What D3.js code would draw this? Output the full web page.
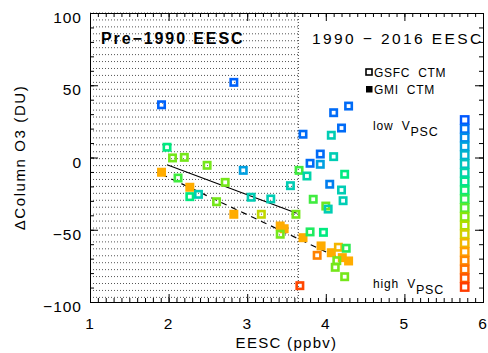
<!DOCTYPE html>
<html>
<head>
<meta charset="utf-8">
<script src="https://cdn.jsdelivr.net/npm/d3@7"></script>
<style>
  body { margin: 0; background: #fff; }
  text { font-family: "Liberation Sans", Arial, sans-serif; fill: #000; white-space: pre; }
</style>
</head>
<body>
<div id="chart"></div>
<script>
// GSFC CTM points (open squares): EESC, dColumn O3, VPSC colour (0 = low, 1 = high)
const gsfcX = [1.91, 2.83, 1.98, 2.05, 2.20, 2.49, 2.95, 2.12, 2.72, 2.27, 2.38, 2.61, 3.05, 3.30, 3.18,
               3.62, 3.42, 3.55, 3.66, 3.76, 3.71, 3.93, 3.80, 3.93, 4.10, 4.07, 4.10, 4.20, 4.29, 4.24,
               4.05, 4.20, 4.22, 3.84, 4.00, 4.03, 3.80, 3.97, 3.89, 4.16, 4.26, 4.14, 4.12, 4.24, 3.67];
const gsfcY = [36.5, 52.0, 7.1, -0.3, 0.1, -5.4, -8.9, -14.2, -17.2, -27.1, -25.5, -30.6, -27.5, -28.7, -39.3,
               -39.3, -53.1, -19.5, -8.9, -12.8, 16.1, 2.4, -4.0, -4.7, 0.6, 15.4, 31.0, 20.4, 35.6, -11.6,
               -18.5, -22.5, -29.9, -28.9, -33.6, -35.7, -51.5, -51.8, -67.7, -62.1, -62.8, -71.4, -76.0, -82.5, -88.7];
const gsfcV = [0.02, 0.02, 0.40, 0.56, 0.56, 0.56, 0.15, 0.50, 0.56, 0.40, 0.30, 0.56, 0.30, 0.30, 0.66,
               0.56, 0.56, 0.30, 0.50, 0.32, 0.04, 0.04, 0.04, 0.15, 0.30, 0.30, 0.04, 0.04, 0.04, 0.40,
               0.08, 0.30, 0.30, 0.50, 0.55, 0.30, 0.45, 0.40, 0.86, 0.74, 0.47, 0.56, 0.56, 0.56, 0.98];

// GMI CTM points (filled squares)
const gmiX = [1.91, 2.27, 2.83, 3.42, 3.47, 3.71, 3.94, 4.07, 4.21, 4.29];
const gmiY = [-10.2, -20.6, -39.3, -47.4, -49.3, -55.5, -61.2, -65.9, -69.3, -71.6];
const gmiV = 0.76;

// regression lines
const solidX = [1.98, 3.63], solidY = [-5.0, -38.6];
const dashX = [1.91, 4.31], dashY = [-11.6, -73.2];

const pre1990Edge = 3.65;
const xTicks = [1, 2, 3, 4, 5, 6];
const yTicks = [-100, -50, 0, 50, 100];

const W = 488, H = 353;
const m = { left: 90, right: 5, top: 13, bottom: 51 };

const x = d3.scaleLinear().domain([1, 6]).range([m.left, W - m.right]);
const y = d3.scaleLinear().domain([-100, 100]).range([H - m.bottom, m.top]);

const vpsc = d3.scaleLinear()
  .domain([0, 0.15, 0.3, 0.4, 0.5, 0.6, 0.68, 0.76, 0.88, 1])
  .range(["#0058ff", "#00a0e0", "#00cdb4", "#00ea80", "#40ec40", "#98e400", "#cfd200", "#ffac00", "#ff7800", "#ff3c00"]);

const svg = d3.select("#chart").append("svg").attr("width", W).attr("height", H);

// dotted hatching of the pre-1990 part
const hatch = svg.append("g");
hatch.selectAll("line").data(d3.range(100, -100, -4.8)).join("line")
  .attr("x1", x(1)).attr("x2", x(pre1990Edge))
  .attr("y1", d => y(d)).attr("y2", d => y(d))
  .attr("stroke", "#555").attr("stroke-width", 1).attr("stroke-dasharray", "1,2");
hatch.append("line")
  .attr("x1", x(pre1990Edge)).attr("x2", x(pre1990Edge))
  .attr("y1", y(100)).attr("y2", y(-100))
  .attr("stroke", "#333").attr("stroke-dasharray", "1,2");

// axes on all four sides, minor + major ticks
const xMinor = d3.range(10, 61).map(d => d / 10);
const yMinor = d3.range(-100, 101, 10);

svg.append("g").attr("transform", `translate(0,${y(-100)})`).call(d3.axisTop(x).tickValues(xMinor).tickSize(4).tickFormat(""));
svg.append("g").attr("transform", `translate(0,${y(-100)})`).call(d3.axisTop(x).tickValues(xTicks).tickSize(8).tickFormat(""));
svg.append("g").attr("transform", `translate(0,${y(100)})`).call(d3.axisBottom(x).tickValues(xMinor).tickSize(4).tickFormat(""));
svg.append("g").attr("transform", `translate(0,${y(100)})`).call(d3.axisBottom(x).tickValues(xTicks).tickSize(8).tickFormat(""));
svg.append("g").attr("transform", `translate(${x(1)},0)`).call(d3.axisRight(y).tickValues(yMinor).tickSize(4).tickFormat(""));
svg.append("g").attr("transform", `translate(${x(1)},0)`).call(d3.axisRight(y).tickValues(yTicks).tickSize(8).tickFormat(""));
svg.append("g").attr("transform", `translate(${x(6)},0)`).call(d3.axisLeft(y).tickValues(yMinor).tickSize(4).tickFormat(""));
svg.append("g").attr("transform", `translate(${x(6)},0)`).call(d3.axisLeft(y).tickValues(yTicks).tickSize(8).tickFormat(""));
svg.selectAll(".domain").attr("stroke", "#000").attr("stroke-width", 1);
svg.selectAll(".tick line").attr("stroke", "#000");

// tick labels
svg.append("g").selectAll("text").data(xTicks).join("text")
  .attr("x", d => x(d)).attr("y", y(-100) + 27)
  .attr("text-anchor", "middle").attr("font-size", 15.5).attr("letter-spacing", 1)
  .text(d => d);
svg.append("g").selectAll("text").data(yTicks).join("text")
  .attr("x", x(1) - 8).attr("y", d => y(d) + 10)
  .attr("text-anchor", "end").attr("font-size", 15.5).attr("letter-spacing", 1)
  .text(d => d < 0 ? "\u2212" + Math.abs(d) : d);

svg.append("text").attr("x", (x(1) + x(6)) / 2).attr("y", 348)
  .attr("text-anchor", "middle").attr("font-size", 15).attr("letter-spacing", 1.3)
  .text("EESC (ppbv)");
svg.append("text").attr("transform", `translate(25,${(y(100) + y(-100)) / 2}) rotate(-90)`)
  .attr("text-anchor", "middle").attr("font-size", 15).attr("letter-spacing", 1.6)
  .text("\u0394Column O3 (DU)");

// region titles
svg.append("text").attr("x", 101).attr("y", 44).attr("font-size", 16).attr("font-weight", "bold")
  .attr("letter-spacing", 1.9).text("Pre\u22121990 EESC");
svg.append("text").attr("x", 312).attr("y", 44).attr("font-size", 15.5)
  .attr("letter-spacing", 2.4).text("1990 \u2212 2016 EESC");

// regression lines
const line = d3.line().x(d => x(d[0])).y(d => y(d[1]));
svg.append("path").attr("d", line(d3.zip(solidX, solidY)))
  .attr("stroke", "#000").attr("stroke-width", 1.2).attr("fill", "none");
svg.append("path").attr("d", line(d3.zip(dashX, dashY)))
  .attr("stroke", "#000").attr("stroke-width", 1.2).attr("fill", "none").attr("stroke-dasharray", "6,5");

// GMI CTM filled squares
svg.append("g").selectAll("rect").data(d3.zip(gmiX, gmiY)).join("rect")
  .attr("x", d => x(d[0]) - 4.5).attr("y", d => y(d[1]) - 4.5)
  .attr("width", 9).attr("height", 9)
  .attr("fill", vpsc(gmiV));

// GSFC CTM open squares
svg.append("g").selectAll("rect").data(d3.zip(gsfcX, gsfcY, gsfcV)).join("rect")
  .attr("x", d => x(d[0]) - 3.2).attr("y", d => y(d[1]) - 3.2)
  .attr("width", 6.4).attr("height", 6.4)
  .attr("fill", "none").attr("stroke", d => vpsc(d[2])).attr("stroke-width", 2.6);

// legend
const lg = svg.append("g").attr("font-size", 12).attr("letter-spacing", 0.7);
lg.append("rect").attr("x", 366).attr("y", 69).attr("width", 6).attr("height", 6)
  .attr("fill", "none").attr("stroke", "#000").attr("stroke-width", 1.6);
lg.append("text").attr("x", 374).attr("y", 77).text("GSFC  CTM");
lg.append("rect").attr("x", 366).attr("y", 86).attr("width", 6.5).attr("height", 6.5).attr("fill", "#000");
lg.append("text").attr("x", 374).attr("y", 94).text("GMI  CTM");

// colour bar of VPSC
const levels = d3.range(20).map(i => i / 19);
const cb = d3.scalePoint().domain(levels).range([120, 287]);
svg.append("g").selectAll("rect").data(levels).join("rect")
  .attr("x", 461).attr("y", d => cb(d) - 3.7)
  .attr("width", 7.4).attr("height", 7.4)
  .attr("fill", "#fff").attr("stroke", d => vpsc(d)).attr("stroke-width", 2.4);

function vLabel(word, yy) {
  const t = svg.append("text").attr("x", 373).attr("y", yy).attr("font-size", 12).attr("letter-spacing", 0.8);
  t.append("tspan").text(word + "  V");
  t.append("tspan").attr("dy", 6).attr("font-size", 12.5).text("PSC");
}
vLabel("low", 130);
vLabel("high", 288);
</script>
</body>
</html>
